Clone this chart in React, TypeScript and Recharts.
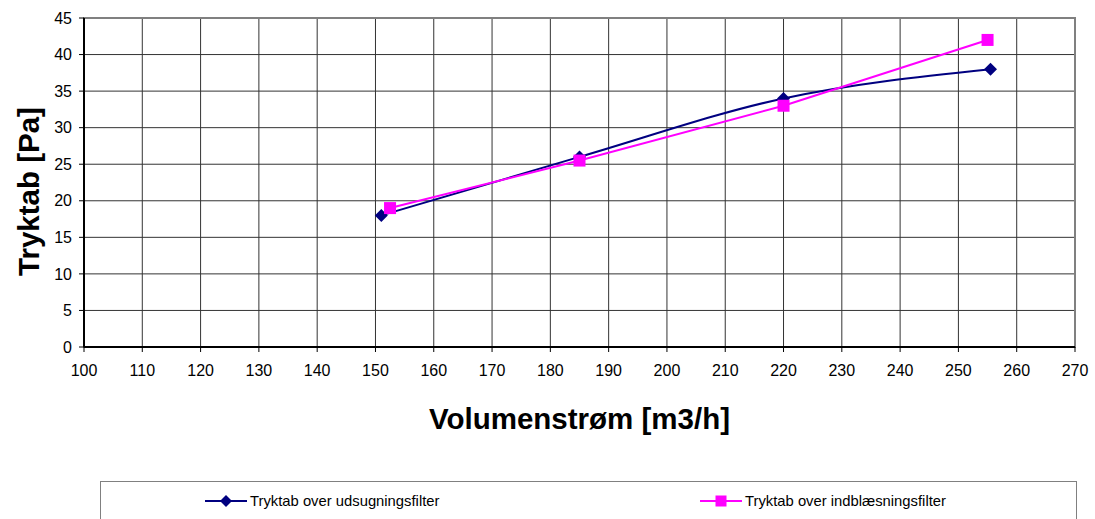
import { ComposedChart, Line, XAxis, YAxis, CartesianGrid, ReferenceArea } from 'recharts'

// udsugning (navy, diamonds)
const udsugningX = [151, 185, 220, 255.5]
const udsugningY = [18, 26, 34, 38]
// indblæsning (magenta, squares)
const indblaesX = [152.5, 185, 220, 255]
const indblaesY = [19, 25.5, 33, 42]

const xTicks = [100, 110, 120, 130, 140, 150, 160, 170, 180, 190, 200, 210, 220, 230, 240, 250, 260, 270]
const yTicks = [0, 5, 10, 15, 20, 25, 30, 35, 40, 45]

const SERIES_NAMES = ['Tryktab over udsugningsfilter', 'Tryktab over indblæsningsfilter']
const NAVY = '#000080'
const MAGENTA = '#FF00FF'
const FONT = '"Liberation Sans", Arial, sans-serif'

const dataUd = udsugningX.map((x, i) => ({ x, y: udsugningY[i] }))
const dataInd = indblaesX.map((x, i) => ({ x, y: indblaesY[i] }))

function Diamond({ cx, cy, r = 6.5, fill = NAVY }: any) {
  if (cx == null || cy == null) return null
  return <path d={`M${cx},${cy - r}L${cx + r},${cy}L${cx},${cy + r}L${cx - r},${cy}Z`} fill={fill} />
}

function Square({ cx, cy, r = 6, fill = MAGENTA }: any) {
  if (cx == null || cy == null) return null
  return <rect x={cx - r} y={cy - r} width={r * 2} height={r * 2} fill={fill} />
}

function YTitle({ viewBox }: any) {
  const cx = 28
  const cy = viewBox.y + viewBox.height / 2 + 9
  return (
    <text x={cx} y={cy} transform={`rotate(-90 ${cx} ${cy})`} textAnchor="middle" dominantBaseline="central"
      style={{ fontFamily: FONT, fontSize: 29.5, fontWeight: 700, fill: '#000' }}>
      Tryktab [Pa]
    </text>
  )
}

function XTitle({ viewBox }: any) {
  const cx = viewBox.x + viewBox.width / 2
  return (
    <text x={cx} y={418} textAnchor="middle" dominantBaseline="central"
      style={{ fontFamily: FONT, fontSize: 29.5, fontWeight: 700, fill: '#000' }}>
      Volumenstrøm [m3/h]
    </text>
  )
}

function LegendItem({ name, color, shape, left }: { name: string; color: string; shape: 'diamond' | 'square'; left: number }) {
  return (
    <div style={{ position: 'absolute', left, top: 0, height: 38, display: 'flex', alignItems: 'center' }}>
      <svg width={42} height={16} style={{ marginRight: 3 }}>
        <line x1={0} y1={8} x2={42} y2={8} stroke={color} strokeWidth={2} />
        {shape === 'diamond' ? <Diamond cx={21} cy={8} r={6} fill={color} /> : <Square cx={21} cy={8} r={5.5} fill={color} />}
      </svg>
      <span style={{ fontFamily: FONT, fontSize: 14.8, color: '#000', whiteSpace: 'nowrap' }}>{name}</span>
    </div>
  )
}

export default function App() {
  return (
    <div style={{ position: 'absolute', left: 0, top: 0, width: 1095, height: 519, background: 'white', overflow: 'hidden' }}>
      <ComposedChart width={1095} height={519} margin={{ top: 18, right: 20, bottom: 0, left: 0 }}>
        <CartesianGrid stroke="#333" strokeWidth={1} horizontalValues={yTicks} verticalValues={xTicks} />
        <ReferenceArea x1={100} x2={270} y1={0} y2={45} fill="none" stroke="#808080" strokeWidth={2} ifOverflow="visible" />
        <XAxis
          type="number"
          dataKey="x"
          domain={[100, 270]}
          ticks={xTicks}
          interval={0}
          height={172}
          tickSize={5}
          tickMargin={13}
          stroke="#000"
          strokeWidth={2}
          tick={{ fontFamily: FONT, fontSize: 16, fill: '#000' }}
          tickLine={{ stroke: '#000', strokeWidth: 1 }}
          label={<XTitle />}
          allowDataOverflow
        />
        <YAxis
          type="number"
          dataKey="y"
          domain={[0, 45]}
          ticks={yTicks}
          interval={0}
          width={84}
          tickSize={5}
          tickMargin={7}
          stroke="#000"
          strokeWidth={2}
          tick={{ fontFamily: FONT, fontSize: 16, fill: '#000' }}
          tickLine={{ stroke: '#000', strokeWidth: 1 }}
          label={<YTitle />}
          allowDataOverflow
        />
        <Line
          data={dataUd}
          dataKey="y"
          name={SERIES_NAMES[0]}
          type="monotone"
          stroke={NAVY}
          strokeWidth={2}
          dot={(p: any) => <Diamond key={`d${p.index}`} cx={p.cx} cy={p.cy} />}
          activeDot={false}
          isAnimationActive={false}
        />
        <Line
          data={dataInd}
          dataKey="y"
          name={SERIES_NAMES[1]}
          type="linear"
          stroke={MAGENTA}
          strokeWidth={2}
          dot={(p: any) => <Square key={`s${p.index}`} cx={p.cx} cy={p.cy} />}
          activeDot={false}
          isAnimationActive={false}
        />
      </ComposedChart>
      <div style={{ position: 'absolute', left: 100, top: 481, width: 975, height: 60, border: '1px solid #808080', background: 'white' }}>
        <LegendItem name={SERIES_NAMES[0]} color={NAVY} shape="diamond" left={104} />
        <LegendItem name={SERIES_NAMES[1]} color={MAGENTA} shape="square" left={599} />
      </div>
    </div>
  )
}
